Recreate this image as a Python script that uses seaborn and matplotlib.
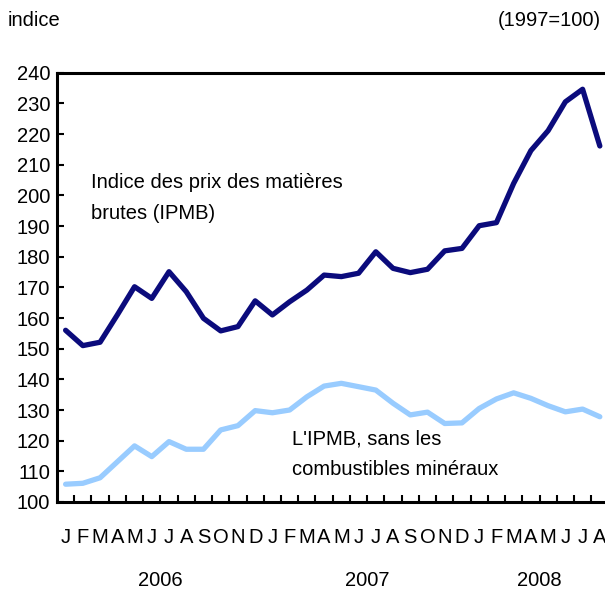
import matplotlib
matplotlib.use("Agg")
import matplotlib.pyplot as plt
import matplotlib.transforms as mtransforms
import numpy as np
import pandas as pd
import seaborn as sns

# Jan 2006 .. Aug 2008
months = list("JFMAMJJASOND") * 2 + list("JFMAMJJA")
years = ["2006", "2007", "2008"]
year_centers = [5.5, 17.5, 27.5]

ipmb = [156.0, 151.0, 152.1, 161.0, 170.2, 166.4, 175.1, 168.6, 159.9, 155.8,
        157.2, 165.6, 161.0, 165.3, 169.1, 174.0, 173.5, 174.6, 181.6, 176.2,
        174.8, 175.9, 181.9, 182.7, 190.1, 191.1, 203.9, 214.6, 221.1, 230.5,
        234.6, 216.1]
ipmb_sans = [105.8, 106.1, 107.9, 113.1, 118.3, 114.8, 119.7, 117.2, 117.2, 123.5,
             124.9, 129.8, 129.1, 130.0, 134.3, 137.8, 138.7, 137.6, 136.5, 132.2,
             128.4, 129.3, 125.6, 125.8, 130.5, 133.6, 135.6, 133.8, 131.4, 129.4,
             130.3, 127.8]

df = pd.DataFrame({
    "mois": np.arange(len(months)),
    "IPMB": ipmb,
    "sans": ipmb_sans,
})

sns.set_style("ticks")
plt.rcParams['font.family'] = ['Liberation Sans', 'DejaVu Sans']
plt.rcParams['text.color'] = 'black'
plt.rcParams['xtick.color'] = 'black'
plt.rcParams['ytick.color'] = 'black'
fs = 14.5

fig = plt.figure(figsize=(6.05, 5.91), dpi=100)
ax = fig.add_axes([0.0942, 0.1506, 0.9058, 0.7264])

sns.lineplot(data=df, x="mois", y="IPMB", color="#0b0b7c", lw=3.8, ax=ax)
sns.lineplot(data=df, x="mois", y="sans", color="#99ccff", lw=3.8, ax=ax)

ax.set_xlim(-0.5, 31.3)
ax.set_ylim(100, 240)
ax.set_yticks(np.arange(100, 241, 10))
ax.tick_params(axis="y", direction="in", length=5, width=1.5, labelsize=fs, pad=5)
ax.set_xticks(np.arange(len(months)))
ax.set_xticklabels(months)
ax.set_xticks(np.arange(0.5, 31.5, 1), minor=True)
ax.tick_params(axis="x", which="major", length=0, labelsize=fs, pad=19)
ax.tick_params(axis="x", which="minor", direction="in", length=5, width=1.5)
ax.set_xlabel("")
ax.set_ylabel("")

for side in ["left", "bottom", "top"]:
    ax.spines[side].set_linewidth(2.2)
    ax.spines[side].set_color("black")
ax.spines["right"].set_visible(False)

trans = mtransforms.blended_transform_factory(ax.transData, fig.transFigure)
for yr, xc in zip(years, year_centers):
    ax.text(xc, 0.0175, yr, transform=trans, ha="center", va="center", fontsize=fs)

fig.text(0.013, 0.966, "indice", ha="left", va="center", fontsize=fs)
fig.text(0.993, 0.966, "(1997=100)", ha="right", va="center", fontsize=fs)

ax.text(1.5, 199.0, "Indice des prix des matières\nbrutes (IPMB)", ha="left", va="center",
        fontsize=fs, linespacing=1.8)
ax.text(13.15, 115.5, "L'IPMB, sans les\ncombustibles minéraux", ha="left", va="center",
        fontsize=fs, linespacing=1.8)

fig.savefig("out.png", dpi=100)
